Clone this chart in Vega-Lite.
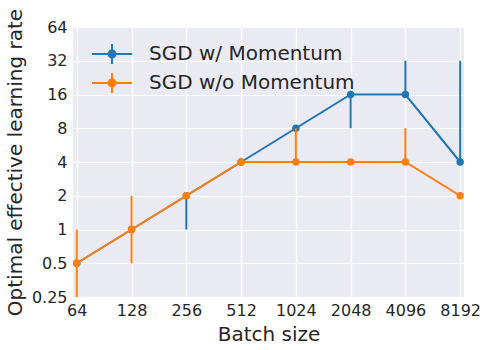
{
  "$schema": "https://vega.github.io/schema/vega-lite/v6.json",
  "width": 391,
  "height": 270,
  "autosize": {"type": "none"},
  "padding": {"left": 73, "top": 27, "right": 22, "bottom": 53},
  "background": "white",
  "config": {
    "font": "DejaVu Sans",
    "view": {"fill": "#EAEAF2", "stroke": null},
    "axis": {
      "grid": true, "gridColor": "white", "gridWidth": 1.2, "domain": false, "ticks": false,
      "labelFont": "DejaVu Sans", "labelFontSize": 16, "labelColor": "#262626",
      "titleFont": "DejaVu Sans", "titleFontSize": 20, "titleFontWeight": "normal", "titleColor": "#262626"
    },
    "legend": {"labelFont": "DejaVu Sans", "labelFontSize": 20, "labelColor": "#262626", "labelLimit": 400}
  },
  "data": {"values": [
    {"batch": 64, "series": "SGD w/ Momentum", "lr": 0.5, "lo": 0.5, "hi": 0.5},
    {"batch": 128, "series": "SGD w/ Momentum", "lr": 1, "lo": 1, "hi": 1},
    {"batch": 256, "series": "SGD w/ Momentum", "lr": 2, "lo": 1, "hi": 2},
    {"batch": 512, "series": "SGD w/ Momentum", "lr": 4, "lo": 4, "hi": 4},
    {"batch": 1024, "series": "SGD w/ Momentum", "lr": 8, "lo": 8, "hi": 8},
    {"batch": 2048, "series": "SGD w/ Momentum", "lr": 16, "lo": 8, "hi": 16},
    {"batch": 4096, "series": "SGD w/ Momentum", "lr": 16, "lo": 16, "hi": 32},
    {"batch": 8192, "series": "SGD w/ Momentum", "lr": 4, "lo": 4, "hi": 32},
    {"batch": 64, "series": "SGD w/o Momentum", "lr": 0.5, "lo": 0.25, "hi": 1},
    {"batch": 128, "series": "SGD w/o Momentum", "lr": 1, "lo": 0.5, "hi": 2},
    {"batch": 256, "series": "SGD w/o Momentum", "lr": 2, "lo": 2, "hi": 2},
    {"batch": 512, "series": "SGD w/o Momentum", "lr": 4, "lo": 4, "hi": 4},
    {"batch": 1024, "series": "SGD w/o Momentum", "lr": 4, "lo": 4, "hi": 8},
    {"batch": 2048, "series": "SGD w/o Momentum", "lr": 4, "lo": 4, "hi": 4},
    {"batch": 4096, "series": "SGD w/o Momentum", "lr": 4, "lo": 4, "hi": 8},
    {"batch": 8192, "series": "SGD w/o Momentum", "lr": 2, "lo": 2, "hi": 2}
  ]},
  "encoding": {
    "x": {"field": "batch", "type": "quantitative",
      "scale": {"type": "log", "base": 2, "domain": [61, 8600], "nice": false, "zero": false},
      "axis": {"values": [64, 128, 256, 512, 1024, 2048, 4096, 8192], "format": "d", "title": "Batch size", "labelPadding": 5, "titlePadding": 6}},
    "color": {"field": "series", "type": "nominal",
      "scale": {"domain": ["SGD w/ Momentum", "SGD w/o Momentum"], "range": ["#1f77b4", "#ff7f0e"]},
      "legend": {"title": null, "orient": "none", "legendX": 28, "legendY": 16, "padding": 0,
        "symbolType": "M-2,0H2M0,-1V1M0.35,0A0.35,0.35,0,1,1,-0.35,0A0.35,0.35,0,1,1,0.35,0Z",
        "symbolSize": 400, "symbolStrokeWidth": 2, "rowPadding": 1, "labelOffset": 26,
        "encode": {"symbols": {"update": {"fill": {"scale": "color", "field": "value"}, "fillOpacity": {"value": 1}}}}}}
  },
  "layer": [
    {"transform": [{"filter": "datum.series == 'SGD w/ Momentum'"}],
     "mark": {"type": "rule", "strokeWidth": 2},
     "encoding": {"y": {"field": "lo", "type": "quantitative"}, "y2": {"field": "hi"}}},
    {"transform": [{"filter": "datum.series == 'SGD w/ Momentum'"}],
     "mark": {"type": "line", "strokeWidth": 2, "point": {"size": 55, "filled": true, "opacity": 1}},
     "encoding": {"y": {"field": "lr", "type": "quantitative",
       "scale": {"type": "log", "base": 2, "domain": [0.25, 64], "nice": false, "zero": false},
       "axis": {"values": [0.25, 0.5, 1, 2, 4, 8, 16, 32, 64], "format": "~g", "title": "Optimal effective learning rate", "labelPadding": 6, "titlePadding": 6}}}},
    {"transform": [{"filter": "datum.series == 'SGD w/o Momentum'"}],
     "mark": {"type": "rule", "strokeWidth": 2},
     "encoding": {"y": {"field": "lo", "type": "quantitative"}, "y2": {"field": "hi"}}},
    {"transform": [{"filter": "datum.series == 'SGD w/o Momentum'"}],
     "mark": {"type": "line", "strokeWidth": 2, "point": {"size": 55, "filled": true, "opacity": 1}},
     "encoding": {"y": {"field": "lr", "type": "quantitative"}}}
  ]
}
